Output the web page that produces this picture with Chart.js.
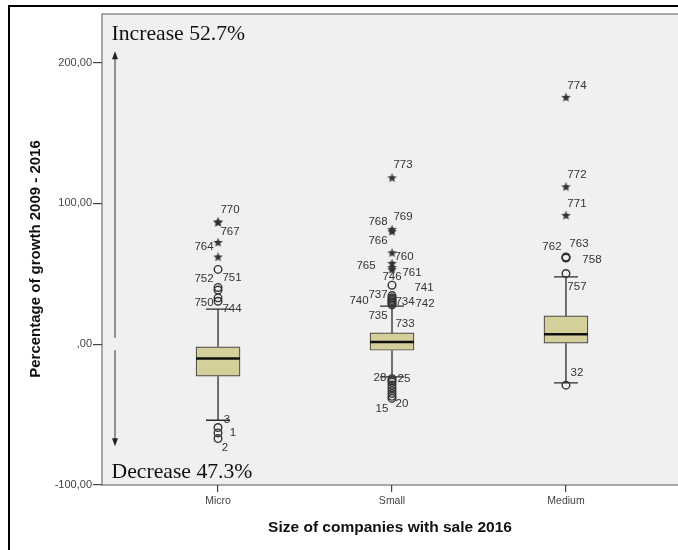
<!DOCTYPE html>
<html>
<head>
<meta charset="utf-8">
<script src="https://cdn.jsdelivr.net/npm/chart.js@4.4.0/dist/chart.umd.min.js"></script>
<style>
    html, body { margin: 0; padding: 0; background: #fff; overflow: hidden; }
    #wrap { width: 678px; height: 550px; }
</style>
</head>
<body>
<div id="wrap"><canvas id="boxChart" width="678" height="550"></canvas></div>
<script>

const categories = ["Micro", "Small", "Medium"];
const yTicks = [-100, 0, 100, 200];
const yTitle = "Percentage of growth 2009 - 2016";

/* five-number summary per size class */
const whiskerLow  = [-54.0, -23.2, -27.5];
const quartile1   = [-22.7,  -4.3,   0.7];
const medians     = [-10.2,   1.6,   7.1];
const quartile3   = [ -1.9,   8.0,  20.1];
const whiskerHigh = [ 24.9,  27.0,  47.8];

/* outliers (circles) and extremes (stars), with case numbers */
const microOutVals  = [-67.0, -63.0, -59.2, 30.5, 32.9, 38.4, 40.3, 53.1];
const microOutIds   = ["2", "1", "3", "744", "750", "751", "752", ""];
const microExtVals  = [62.0, 72.3, 86.5, 86.9];
const microExtIds   = ["", "764", "767", "770"];

const smallOutVals  = [-38.5, -37.0, -35.0, -33.0, -31.0, -29.0, -27.0, -25.8, -24.5,
                       28.0, 29.0, 30.0, 31.0, 32.0, 33.0, 34.5, 41.9];
const smallOutIds   = ["15", "20", "", "", "", "", "", "25", "28",
                       "733", "735", "742", "734", "740", "741", "737", "746"];
const smallExtVals  = [53.0, 54.5, 57.4, 64.9, 80.0, 81.5, 118.2];
const smallExtIds   = ["761", "765", "760", "766", "768", "769", "773"];

const mediumOutVals = [-29.1, 50.2, 61.2, 61.6, 62.0];
const mediumOutIds  = ["32", "757", "758", "762", "763"];
const mediumExtVals = [91.5, 111.8, 175.3];
const mediumExtIds  = ["771", "772", "774"];

// where each case number sits relative to its marker (px)
const labelOffset = {
    "2": [7, 9], "1": [15, 0], "3": [9, -8],
    "744": [14, 8], "750": [-14, 5], "751": [14, -12], "752": [-14, -9],
    "764": [-14, 4], "767": [12, 9], "770": [12, -12],
    "773": [11, -13], "769": [11, -13], "768": [-14, -10], "766": [-14, -12],
    "760": [12, -7], "765": [-26, -2], "761": [20, 3], "746": [0, -8],
    "737": [-14, -1], "741": [32, -10], "740": [-33, 2], "734": [13, 1],
    "742": [33, 2], "735": [-14, 12], "733": [13, 19],
    "28": [-12, -1], "25": [12, -2], "20": [10, 8], "15": [-10, 10],
    "774": [11, -12], "772": [11, -12], "771": [11, -12],
    "762": [-14, -11], "763": [13, -13], "758": [26, 2], "757": [11, 13],
    "32": [11, -12]
};

const X_MIN = 0.333, X_MAX = 3.644;
const Y_MIN = -100, Y_MAX = 234.5;

/* helpers */
function points(pos, vals, ids){
    return vals.map((v, i) => ({ x: pos, y: v, id: ids[i] }));
}

function fmtTick(v){
    if(v === 0) return ",00";
    return v.toFixed(2).replace(".", ",");
}

// small filled star used for extreme cases
function makeStar(){
    let c = document.createElement("canvas");
    c.width = 11; c.height = 11;
    let g = c.getContext("2d");
    g.fillStyle = "#333";
    g.beginPath();
    for(let k = 0; k < 10; k++){
        let r = k % 2 === 0 ? 5 : 2.1;
        let a = -Math.PI / 2 + k * Math.PI / 5;
        let px = 5.5 + r * Math.cos(a), py = 5.8 + r * Math.sin(a);
        k === 0 ? g.moveTo(px, py) : g.lineTo(px, py);
    }
    g.closePath();
    g.fill();
    return c;
}

const circleData = [].concat(
    points(1, microOutVals, microOutIds),
    points(2, smallOutVals, smallOutIds),
    points(3, mediumOutVals, mediumOutIds)
);
const starData = [].concat(
    points(1, microExtVals, microExtIds),
    points(2, smallExtVals, smallExtIds),
    points(3, mediumExtVals, mediumExtIds)
);
const boxData = categories.map((c, i) => ({ x: i + 1, y: [quartile1[i], quartile3[i]] }));

/* PLOT DECORATION + WHISKERS + MEDIANS + CASE LABELS */
const boxParts = {
    id: "boxParts",

    beforeDraw(chart){
        const { ctx, chartArea: a } = chart;
        ctx.save();
        // page frame
        ctx.strokeStyle = "#000";
        ctx.lineWidth = 2;
        ctx.beginPath();
        ctx.moveTo(9, chart.height);
        ctx.lineTo(9, 6);
        ctx.lineTo(chart.width, 6);
        ctx.stroke();
        // plot panel
        ctx.fillStyle = "#f0f0f0";
        ctx.fillRect(a.left, a.top, a.right - a.left, a.bottom - a.top);
        ctx.strokeStyle = "#8c8c8c";
        ctx.lineWidth = 1.5;
        ctx.strokeRect(a.left, a.top, a.right - a.left + 10, a.bottom - a.top);

        // y axis title
        ctx.translate(36, 259);
        ctx.rotate(-Math.PI / 2);
        ctx.fillStyle = "#111";
        ctx.font = "bold 15px 'Liberation Sans', Arial, sans-serif";
        ctx.textAlign = "center";
        ctx.textBaseline = "middle";
        ctx.fillText(yTitle, 0, 0);
        ctx.restore();
    },

    beforeDatasetsDraw(chart){
        const { ctx } = chart;
        const xs = chart.scales.x, ys = chart.scales.y;
        ctx.save();
        ctx.strokeStyle = "#2b2b2b";
        ctx.lineWidth = 1.3;
        categories.forEach((c, i) => {
            let x = xs.getPixelForValue(i + 1);
            let xl = xs.getPixelForValue(i + 1 - 0.069);
            let xr = xs.getPixelForValue(i + 1 + 0.069);
            let lo = ys.getPixelForValue(whiskerLow[i]);
            let hi = ys.getPixelForValue(whiskerHigh[i]);
            ctx.beginPath();
            ctx.moveTo(x, lo); ctx.lineTo(x, ys.getPixelForValue(quartile1[i]));
            ctx.moveTo(x, ys.getPixelForValue(quartile3[i])); ctx.lineTo(x, hi);
            ctx.moveTo(xl, lo); ctx.lineTo(xr, lo);
            ctx.moveTo(xl, hi); ctx.lineTo(xr, hi);
            ctx.stroke();
        });
        ctx.restore();
    },

    afterDatasetsDraw(chart){
        const { ctx, chartArea: a } = chart;
        const xs = chart.scales.x, ys = chart.scales.y;
        ctx.save();

        // medians
        ctx.strokeStyle = "#111";
        ctx.lineWidth = 2.5;
        categories.forEach((c, i) => {
            let y = ys.getPixelForValue(medians[i]);
            ctx.beginPath();
            ctx.moveTo(xs.getPixelForValue(i + 1 - 0.126), y);
            ctx.lineTo(xs.getPixelForValue(i + 1 + 0.126), y);
            ctx.stroke();
        });

        // case numbers
        ctx.fillStyle = "#333";
        ctx.font = "11.5px 'Liberation Sans', Arial, sans-serif";
        ctx.textAlign = "center";
        ctx.textBaseline = "middle";
        [1, 2].forEach(di => {
            let ds = chart.data.datasets[di];
            chart.getDatasetMeta(di).data.forEach((pt, j) => {
                let id = ds.data[j].id;
                if(!id) return;
                let off = labelOffset[id] || [10, -10];
                ctx.fillText(id, pt.x + off[0], pt.y + off[1]);
            });
        });

        // increase / decrease arrows
        let ax = a.left + 13;
        ctx.strokeStyle = "#333";
        ctx.fillStyle = "#222";
        ctx.lineWidth = 1;
        let top = ys.getPixelForValue(208), bot = ys.getPixelForValue(-72.5);
        let gapT = ys.getPixelForValue(4.5), gapB = ys.getPixelForValue(-4.3);
        ctx.beginPath();
        ctx.moveTo(ax, gapT); ctx.lineTo(ax, top + 6);
        ctx.moveTo(ax, gapB); ctx.lineTo(ax, bot - 6);
        ctx.stroke();
        ctx.beginPath();
        ctx.moveTo(ax, top); ctx.lineTo(ax - 3, top + 8); ctx.lineTo(ax + 3, top + 8); ctx.closePath();
        ctx.moveTo(ax, bot); ctx.lineTo(ax - 3, bot - 8); ctx.lineTo(ax + 3, bot - 8); ctx.closePath();
        ctx.fill();

        ctx.fillStyle = "#111";
        ctx.font = "21.7px 'Liberation Serif', 'Times New Roman', serif";
        ctx.textAlign = "left";
        ctx.textBaseline = "alphabetic";
        ctx.fillText("Increase 52.7%", a.left + 9.5, a.top + 26);
        ctx.fillText("Decrease 47.3%", a.left + 9.5, a.bottom - 7);

        ctx.restore();
    }
};

new Chart(document.getElementById("boxChart"), {
    type: "bar",
    data: {
        datasets: [
            {
                type: "bar",
                data: boxData,
                backgroundColor: "#d5d09b",
                borderColor: "#4a4a4a",
                borderWidth: 1.2,
                borderSkipped: false,
                barThickness: 44,
                order: 3
            },
            {
                type: "scatter",
                data: circleData,
                pointStyle: "circle",
                pointRadius: 3.8,
                borderWidth: 1.4,
                borderColor: "#333",
                backgroundColor: "rgba(0,0,0,0)",
                order: 2
            },
            {
                type: "scatter",
                data: starData,
                pointStyle: makeStar(),
                order: 1
            }
        ]
    },
    options: {
        responsive: false,
        animation: false,
        events: [],
        layout: { autoPadding: false, padding: { top: 14, left: 0, right: 0, bottom: 0 } },
        plugins: {
            legend: { display: false },
            tooltip: { enabled: false }
        },
        scales: {
            x: {
                type: "linear",
                min: X_MIN,
                max: X_MAX,
                offset: false,
                afterBuildTicks: s => { s.ticks = categories.map((c, i) => ({ value: i + 1 })); },
                afterFit: s => { s.height = 65; s.paddingLeft = 0; s.paddingRight = 0; },
                grid: { offset: false, drawOnChartArea: false, tickLength: 7, color: "#444", lineWidth: 1.2 },
                border: { display: false },
                ticks: {
                    autoSkip: false,
                    maxRotation: 0,
                    padding: 3,
                    color: "#444",
                    font: { family: "'Liberation Sans', Arial, sans-serif", size: 10.5 },
                    callback: v => categories[v - 1]
                },
                title: {
                    display: true,
                    text: "Size of companies with sale 2016",
                    color: "#111",
                    font: { family: "'Liberation Sans', Arial, sans-serif", size: 15.5, weight: "bold" },
                    padding: { top: 0, bottom: 13 }
                }
            },
            y: {
                min: Y_MIN,
                max: Y_MAX,
                afterBuildTicks: s => { s.ticks = yTicks.map(v => ({ value: v })); },
                afterFit: s => { s.width = 102; },
                grid: { drawOnChartArea: false, tickLength: 9, color: "#444", lineWidth: 1.2 },
                border: { display: false },
                ticks: {
                    padding: 1,
                    color: "#444",
                    font: { family: "'Liberation Sans', Arial, sans-serif", size: 11 },
                    callback: v => fmtTick(v)
                }
            }
        }
    },
    plugins: [boxParts]
});

</script>
</body>
</html>
